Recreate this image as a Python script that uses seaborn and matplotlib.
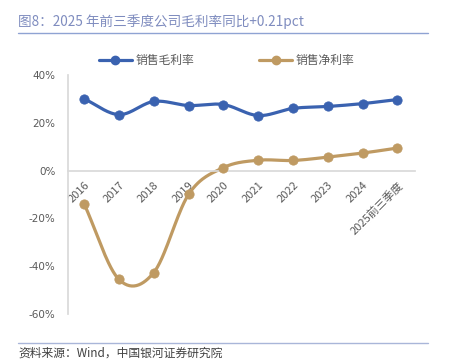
import numpy as np
import pandas as pd
import matplotlib
matplotlib.use("Agg")
import matplotlib.pyplot as plt
import matplotlib.transforms as mtransforms
import seaborn as sns
from matplotlib.lines import Line2D

years = ["2016", "2017", "2018", "2019", "2020", "2021", "2022", "2023", "2024", "2025前三季度"]
gross = [30.0, 23.4, 28.9, 27.2, 27.6, 23.0, 26.0, 26.8, 28.0, 29.7]
net = [-14.0, -45.6, -42.7, -10.0, 1.2, 4.3, 4.2, 5.6, 7.3, 9.4]

blue = "#3A62B0"
tan = "#BF9A62"

sns.set_theme(style="white")
plt.rcParams["font.family"] = ["Noto Sans CJK SC", "DejaVu Sans"]


def smooth(y, n=30):
    # catmull-rom style curve through the data points (excel "smoothed line")
    y = np.asarray(y, float)
    p = np.concatenate([[2 * y[0] - y[1]], y, [2 * y[-1] - y[-2]]])
    xs, ys = [], []
    for i in range(len(y) - 1):
        t = np.linspace(0, 1, n, endpoint=False)
        p0, p1, p2, p3 = p[i], p[i + 1], p[i + 2], p[i + 3]
        yy = 0.5 * ((2 * p1) + (-p0 + p2) * t + (2 * p0 - 5 * p1 + 4 * p2 - p3) * t ** 2
                    + (-p0 + 3 * p1 - 3 * p2 + p3) * t ** 3)
        xs.append(i + t)
        ys.append(yy)
    xs.append([len(y) - 1])
    ys.append([y[-1]])
    return np.concatenate(xs), np.concatenate(ys)


df = pd.DataFrame({"x": range(len(years)), "gross": gross, "net": net})

fig = plt.figure(figsize=(4.49, 3.62), dpi=100)
ax = fig.add_axes([0.151, 0.133, 0.773, 0.66])

for col, c in [("gross", blue), ("net", tan)]:
    sx, sy = smooth(df[col])
    sns.lineplot(x=sx, y=sy, ax=ax, color=c, lw=2.3, sort=False)
    sns.scatterplot(x=df["x"], y=df[col], ax=ax, color=c, s=45, edgecolor=c, zorder=5)

# spine position resets ticks, so do it first
ax.spines["bottom"].set_position(("data", 0))
for s in ["top", "right"]:
    ax.spines[s].set_visible(False)
ax.spines["bottom"].set_color("#D9D9D9")
ax.spines["left"].set_color("#D9D9D9")

ax.set_ylim(-60, 40)
ax.set_yticks(range(-60, 41, 20))
ax.set_yticklabels([f"{v}%" for v in range(-60, 41, 20)], fontsize=7.5, color="#595959",
                   family=["DejaVu Sans"])
ax.set_xlim(-0.47, 9.5)
ax.set_xticks(range(len(years)))
ax.set_xticklabels(years, rotation=45, ha="right", rotation_mode="anchor",
                   fontsize=8, color="#595959")
shift = mtransforms.ScaledTranslation(4 / 100, 0, fig.dpi_scale_trans)
for lbl in ax.get_xticklabels():
    lbl.set_transform(lbl.get_transform() + shift)
ax.tick_params(axis="x", length=0, pad=7)
ax.tick_params(axis="y", length=0, pad=9)
ax.set_xlabel("")
ax.set_ylabel("")

handles = [Line2D([], [], color=blue, lw=2.3, marker="o", ms=6),
           Line2D([], [], color=tan, lw=2.3, marker="o", ms=6)]
fig.legend(handles, ["销售毛利率", "销售净利率"], loc="center", bbox_to_anchor=(0.505, 0.833),
           ncol=2, frameon=False, fontsize=8.5, handlelength=2.8, columnspacing=5.5,
           handletextpad=0.3, labelcolor="#595959")

fig.text(0.04, 0.94, "图8：2025 年前三季度公司毛利率同比+0.21pct", fontsize=9.8,
         color="#7F8CBF", va="center")
fig.add_artist(Line2D([0.04, 0.953], [0.909, 0.909], color="#8FA3D3", lw=1))
fig.add_artist(Line2D([0.04, 0.953], [0.052, 0.052], color="#A9B6D9", lw=1))
fig.text(0.04, 0.025, "资料来源：Wind，中国银河证券研究院", fontsize=8.5, color="#404040",
         va="center", style="italic")

fig.savefig("out.png", dpi=100)
